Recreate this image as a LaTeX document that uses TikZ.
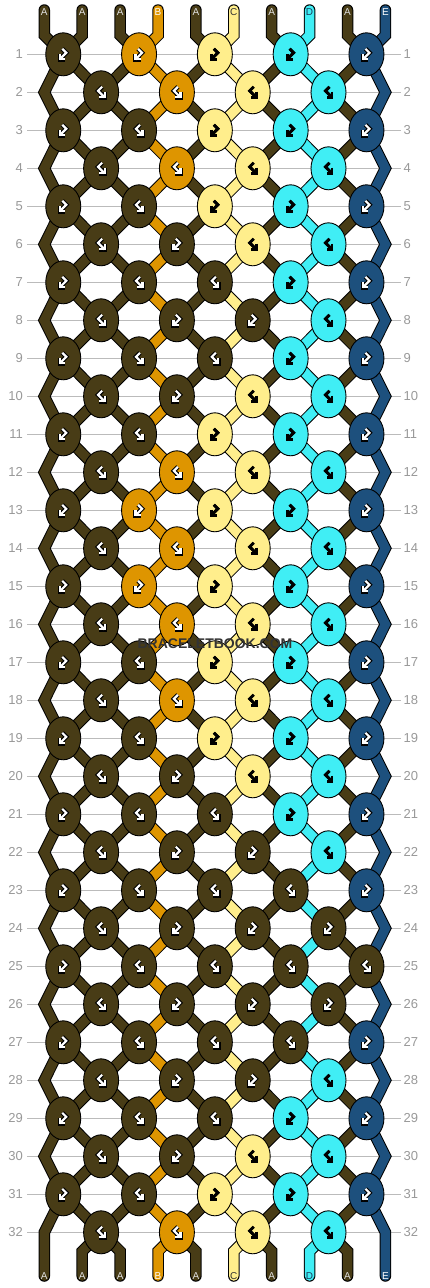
\documentclass[tikz,border=0pt]{standalone}
\usepackage{fontspec}
\setmainfont{Liberation Sans}
\usetikzlibrary{shapes.geometric}
\definecolor{cA}{HTML}{483C16}
\definecolor{cB}{HTML}{DE9500}
\definecolor{cC}{HTML}{FFEE8C}
\definecolor{cD}{HTML}{40EEF5}
\definecolor{cE}{HTML}{1D507D}
\definecolor{lA}{HTML}{E0E0E0}
\definecolor{lB}{HTML}{FFFFFF}
\definecolor{lC}{HTML}{333333}
\definecolor{lD}{HTML}{1A3A5A}
\definecolor{lE}{HTML}{FFFFFF}
\definecolor{rowgray}{HTML}{BBBBBB}
\definecolor{numgray}{HTML}{999999}
\definecolor{wmgray}{HTML}{333333}
\tikzset{
  knot/.style={ellipse,draw=black,line width=0.9,minimum width=35,minimum height=43,inner sep=0},
  strout/.style={draw=black,line width=11.5,line cap=round,line join=miter},
  strin/.style={line width=9.5,line cap=round,line join=miter},
  rowline/.style={draw=rowgray,line width=1},
  rownum/.style={text=numgray,font=\fontsize{13}{13}\selectfont,inner sep=0},
  slabel/.style={font=\fontsize{10}{10}\selectfont,inner sep=0},
  goA/.style={draw=black,line width=4.4},
  goB/.style={draw=black,line width=4.4},
  goE/.style={draw=black,line width=4.4},
  goC/.style={draw=black,line width=2.8},
  goD/.style={draw=black,line width=2.8},
  giA/.style={draw=white,line width=2.2},
  giB/.style={draw=white,line width=2.2},
  giE/.style={draw=white,line width=2.2},
  giC/.style={draw=black,line width=2.8},
  giD/.style={draw=black,line width=2.8}
}
% glyph: short leg, then long leg with an open arrow head; mirrored by sign
\newcommand\kglyphgen[4]{%
  \begin{scope}[shift={(#1,#2)},xscale=#3,line join=miter,line cap=butt]
    \draw[go#4] (-1,-5.5) -- (3,-1.5) -- (-3.5,5);
    \draw[go#4] (-3.5,-0.5) -- (-3.5,5) -- (2,5);
    \draw[gi#4] (-1,-5.5) -- (3,-1.5) -- (-3.5,5);
    \draw[gi#4] (-3.5,-0.5) -- (-3.5,5) -- (2,5);
  \end{scope}}
\newcommand\kglyphR[3]{\kglyphgen{#1}{#2}{1}{#3}}
\newcommand\kglyphL[3]{\kglyphgen{#1}{#2}{-1}{#3}}
\begin{document}
\begin{tikzpicture}[x=1pt,y=-1pt]
\useasboundingbox (0,0) rectangle (430,1288);
\fill[white] (0,0) rectangle (430,1288);
% row guide lines and numbers
\foreach \r in {1,...,32} {
  \pgfmathsetmacro\yy{54.3+38*(\r-1)}
  \draw[rowline] (27,\yy) -- (401,\yy);
  \node[rownum,anchor=east] (ln\r) at (23,\yy) {\r};
  \node[rownum,anchor=west] (rn\r) at (403.5,\yy) {\r};
}
% strings: outline pass
\foreach \i/\c in {1/A,2/A,3/A,4/B,5/A,6/C,7/A,8/D,9/A,10/E} {
  \pgfmathsetmacro\xt{44.3+37.9*(\i-1)}
  \pgfmathsetmacro\xo{63.25+75.8*(ceil(\i/2)-1)}
  \pgfmathsetmacro\xe{101.1+75.8*(floor(\i/2)-1)}
  \ifnum\i=1 \def\xe{44.3}\fi
  \ifnum\i=10 \def\xe{385.4}\fi
  \draw[strout] (\xt,10) -- (\xt,35.3) \foreach \r in {1,...,32}{ -- ({\xe+(\xo-\xe)*mod(\r,2)},{54.3+38*(\r-1)}) } -- (\xt,1251.3) -- (\xt,1276);
}
% strings: colour pass
\foreach \i/\c in {1/A,2/A,3/A,4/B,5/A,6/C,7/A,8/D,9/A,10/E} {
  \pgfmathsetmacro\xt{44.3+37.9*(\i-1)}
  \pgfmathsetmacro\xo{63.25+75.8*(ceil(\i/2)-1)}
  \pgfmathsetmacro\xe{101.1+75.8*(floor(\i/2)-1)}
  \ifnum\i=1 \def\xe{44.3}\fi
  \ifnum\i=10 \def\xe{385.4}\fi
  \draw[strin,draw=c\c] (\xt,10) -- (\xt,35.3) \foreach \r in {1,...,32}{ -- ({\xe+(\xo-\xe)*mod(\r,2)},{54.3+38*(\r-1)}) } -- (\xt,1251.3) -- (\xt,1276);
  \node[slabel,text=l\c] (tl\i) at (\xt,12.5) {\c};
  \node[slabel,text=l\c] (bl\i) at (\xt,1276.5) {\c};
}
% knots
\foreach \r/\row in {
 1/{A/R,B/R,C/R,D/R,E/R},
 2/{A/L,B/L,C/L,D/L},
 3/{A/R,A/L,C/R,D/R,E/R},
 4/{A/L,B/L,C/L,D/L},
 5/{A/R,A/L,C/R,D/R,E/R},
 6/{A/L,A/R,C/L,D/L},
 7/{A/R,A/L,A/L,D/R,E/R},
 8/{A/L,A/R,A/R,D/L},
 9/{A/R,A/L,A/L,D/R,E/R},
 10/{A/L,A/R,C/L,D/L},
 11/{A/R,A/L,C/R,D/R,E/R},
 12/{A/L,B/L,C/L,D/L},
 13/{A/R,B/R,C/R,D/R,E/R},
 14/{A/L,B/L,C/L,D/L},
 15/{A/R,B/R,C/R,D/R,E/R},
 16/{A/L,B/L,C/L,D/L},
 17/{A/R,A/L,C/R,D/R,E/R},
 18/{A/L,B/L,C/L,D/L},
 19/{A/R,A/L,C/R,D/R,E/R},
 20/{A/L,A/R,C/L,D/L},
 21/{A/R,A/L,A/L,D/R,E/R},
 22/{A/L,A/R,A/R,D/L},
 23/{A/R,A/L,A/L,A/L,E/R},
 24/{A/L,A/R,A/R,A/R},
 25/{A/R,A/L,A/L,A/L,A/L},
 26/{A/L,A/R,A/R,A/R},
 27/{A/R,A/L,A/L,A/L,E/R},
 28/{A/L,A/R,A/R,D/L},
 29/{A/R,A/L,A/L,D/R,E/R},
 30/{A/L,A/R,C/L,D/L},
 31/{A/R,A/L,C/R,D/R,E/R},
 32/{A/L,B/L,C/L,D/L}} {
  \pgfmathsetmacro\yy{54.3+38*(\r-1)}
  \pgfmathsetmacro\xz{isodd(\r) ? 63.25 : 101.1}
  \foreach \c/\t [count=\k] in \row {
    \pgfmathsetmacro\xx{\xz+75.8*(\k-1)}
    \node[knot,fill=c\c] (k\r-\k) at (\xx,\yy) {};
    \csname kglyph\t\endcsname{\xx}{\yy}{\c}
  }
}
\node[text=wmgray,font=\bfseries\fontsize{14}{15}\selectfont,inner sep=0] (wm) at (215,643.8) {BRACELETBOOK.COM};
\end{tikzpicture}
\end{document}
